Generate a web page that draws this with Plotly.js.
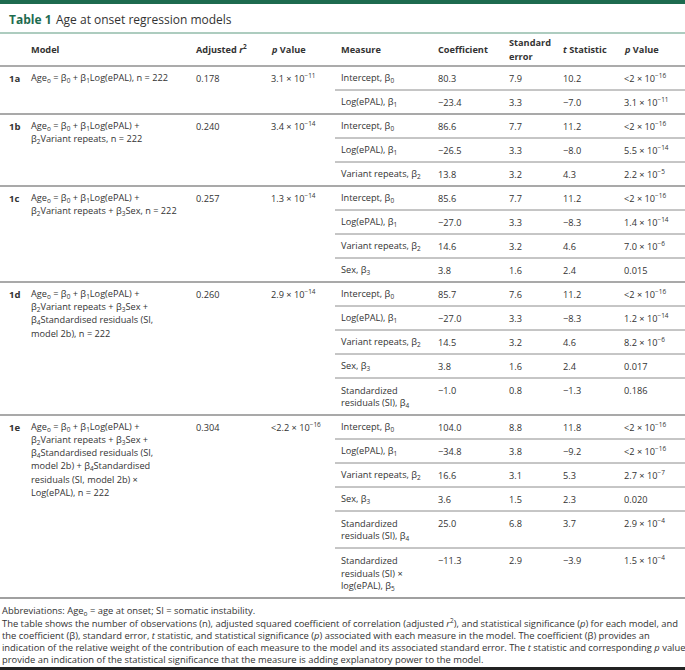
<!DOCTYPE html>
<html lang="en">
<head>
    <meta charset="UTF-8">
    <title>Table 1 Age at onset regression models</title>
    <script src="https://cdn.plot.ly/plotly-3.0.1.min.js"></script>
    <style>
        body { margin: 0; padding: 0; background: #fff; }
        #chart { width: 685px; height: 670px; }
    </style>
</head>
<body>
    <div id="chart"></div>
    <script>
        // ---- table content ----
        const modelIds = ['1a', '1b', '1c', '1d', '1e'];
        const modelFormulas = [
            'Age<sub>o</sub> = β<sub>0</sub> + β<sub>1</sub>Log(ePAL), n = 222',
            'Age<sub>o</sub> = β<sub>0</sub> + β<sub>1</sub>Log(ePAL) +<br>β<sub>2</sub>Variant repeats, n = 222',
            'Age<sub>o</sub> = β<sub>0</sub> + β<sub>1</sub>Log(ePAL) +<br>β<sub>2</sub>Variant repeats + β<sub>3</sub>Sex, n = 222',
            'Age<sub>o</sub> = β<sub>0</sub> + β<sub>1</sub>Log(ePAL) +<br>β<sub>2</sub>Variant repeats + β<sub>3</sub>Sex +<br>β<sub>4</sub>Standardised residuals (SI,<br>model 2b), n = 222',
            'Age<sub>o</sub> = β<sub>0</sub> + β<sub>1</sub>Log(ePAL) +<br>β<sub>2</sub>Variant repeats + β<sub>3</sub>Sex +<br>β<sub>4</sub>Standardised residuals (SI,<br>model 2b) + β<sub>4</sub>Standardised<br>residuals (SI, model 2b) ×<br>Log(ePAL), n = 222'
        ];
        const adjR2 = ['0.178', '0.240', '0.257', '0.260', '0.304'];
        const modelP = [
            '3.1 × 10<sup>−11</sup>',
            '3.4 × 10<sup>−14</sup>',
            '1.3 × 10<sup>−14</sup>',
            '2.9 × 10<sup>−14</sup>',
            '&lt;2.2 × 10<sup>−16</sup>'
        ];

        const measureNames = [
            ['Intercept, β<sub>0</sub>', 'Log(ePAL), β<sub>1</sub>'],
            ['Intercept, β<sub>0</sub>', 'Log(ePAL), β<sub>1</sub>', 'Variant repeats, β<sub>2</sub>'],
            ['Intercept, β<sub>0</sub>', 'Log(ePAL), β<sub>1</sub>', 'Variant repeats, β<sub>2</sub>', 'Sex, β<sub>3</sub>'],
            ['Intercept, β<sub>0</sub>', 'Log(ePAL), β<sub>1</sub>', 'Variant repeats, β<sub>2</sub>', 'Sex, β<sub>3</sub>',
             'Standardized<br>residuals (SI), β<sub>4</sub>'],
            ['Intercept, β<sub>0</sub>', 'Log(ePAL), β<sub>1</sub>', 'Variant repeats, β<sub>2</sub>', 'Sex, β<sub>3</sub>',
             'Standardized<br>residuals (SI), β<sub>4</sub>', 'Standardized<br>residuals (SI) ×<br>log(ePAL), β<sub>5</sub>']
        ];
        const coefficients = [
            [80.3, -23.4],
            [86.6, -26.5, 13.8],
            [85.6, -27.0, 14.6, 3.8],
            [85.7, -27.0, 14.5, 3.8, -1.0],
            [104.0, -34.8, 16.6, 3.6, 25.0, -11.3]
        ];
        const stdErrors = [
            [7.9, 3.3],
            [7.7, 3.3, 3.2],
            [7.7, 3.3, 3.2, 1.6],
            [7.6, 3.3, 3.2, 1.6, 0.8],
            [8.8, 3.8, 3.1, 1.5, 6.8, 2.9]
        ];
        const tStats = [
            [10.2, -7.0],
            [11.2, -8.0, 4.3],
            [11.2, -8.3, 4.6, 2.4],
            [11.2, -8.3, 4.6, 2.4, -1.3],
            [11.8, -9.2, 5.3, 2.3, 3.7, -3.9]
        ];
        const pValues = [
            ['&lt;2 × 10<sup>−16</sup>', '3.1 × 10<sup>−11</sup>'],
            ['&lt;2 × 10<sup>−16</sup>', '5.5 × 10<sup>−14</sup>', '2.2 × 10<sup>−5</sup>'],
            ['&lt;2 × 10<sup>−16</sup>', '1.4 × 10<sup>−14</sup>', '7.0 × 10<sup>−6</sup>', '0.015'],
            ['&lt;2 × 10<sup>−16</sup>', '1.2 × 10<sup>−14</sup>', '8.2 × 10<sup>−6</sup>', '0.017', '0.186'],
            ['&lt;2 × 10<sup>−16</sup>', '&lt;2 × 10<sup>−16</sup>', '2.7 × 10<sup>−7</sup>', '0.020',
             '2.9 × 10<sup>−4</sup>', '1.5 × 10<sup>−4</sup>']
        ];

        const headers = ['Model', 'Adjusted <i>r</i><sup>2</sup>', '<i>p</i> Value', 'Measure',
                         'Coefficient', 'Standard<br>error', '<i>t</i> Statistic', '<i>p</i> Value'];
        const titleText = '<b>Table 1</b>';
        const subtitleText = 'Age at onset regression models';
        const footnotes = [
            'Abbreviations: Age<sub>o</sub> = age at onset; SI = somatic instability.',
            'The table shows the number of observations (n), adjusted squared coefficient of correlation (adjusted <i>r</i><sup>2</sup>), and statistical significance (<i>p</i>) for each model, and',
            'the coefficient (β), standard error, <i>t</i> statistic, and statistical significance (<i>p</i>) associated with each measure in the model. The coefficient (β) provides an',
            'indication of the relative weight of the contribution of each measure to the model and its associated standard error. The <i>t</i> statistic and corresponding <i>p</i> value',
            'provide an indication of the statistical significance that the measure is adding explanatory power to the model.'
        ];

        // ---- layout settings ----
        const W = 685, H = 670;
        const colX = [30, 195, 270, 340, 437, 508, 562, 623];   // header / cell columns
        const labelX = 8;
        const measureLeft = 335;
        const headerLineY = 66;
        const rowH = 24;
        const lineH = 13;
        const textColor = '#333';
        const green = '#1d6b4f';
        const font = 'Open Sans, Noto Sans, sans-serif';
        const bodySize = 9.2;

        const annotations = [];
        const shapes = [];

        function addText(x, y, text, opts) {
            annotations.push(Object.assign({
                x: x, y: y, xref: 'x', yref: 'y',
                text: text, showarrow: false,
                xanchor: 'left', yanchor: 'middle', align: 'left',
                borderpad: 0,
                font: { family: font, size: bodySize, color: textColor }
            }, opts || {}));
        }
        function addLines(x, y, text, opts) {
            text.split('<br>').forEach((ln, k) => addText(x, y + k * lineH, ln, opts));
            return text.split('<br>').length;
        }
        function hline(x0, x1, y, color, width) {
            shapes.push({ type: 'line', xref: 'x', yref: 'y', x0: x0, x1: x1, y0: y, y1: y,
                          line: { color: color, width: width } });
        }
        function fmt(v) {
            return v.toFixed(1).replace('-', '−');
        }

        // top bar and title
        shapes.push({ type: 'rect', xref: 'x', yref: 'y', x0: 0, x1: W, y0: 0, y1: 4,
                      fillcolor: green, line: { width: 0 } });
        addText(labelX, 19, titleText, { font: { family: font, size: 12, color: green } });
        addText(labelX + 47, 19, subtitleText, { font: { family: font, size: 12, color: '#333' } });
        hline(0, W, 33, '#5c9a80', 1.2);

        // header row
        headers.forEach((h, i) => {
            const n = h.split('<br>').length;
            const y0 = 49 - (n - 1) * 7;
            h.split('<br>').forEach((ln, k) =>
                addText(colX[i], y0 + k * 14, '<b>' + ln + '</b>',
                        { font: { family: font, size: 9.2, color: textColor } }));
        });
        hline(0, W, headerLineY, '#8f8f8f', 1.5);

        // body
        let y = headerLineY;
        modelIds.forEach((id, i) => {
            const top = y;
            addText(labelX, top + 12, '<b>' + id + '</b>', { font: { family: font, size: 9.5, color: textColor } });
            addLines(colX[0], top + 12, modelFormulas[i]);
            addText(colX[1], top + 12, adjR2[i]);
            addText(colX[2], top + 12, modelP[i]);
            const nRows = measureNames[i].length;
            measureNames[i].forEach((name, j) => {
                const n = addLines(colX[3], y + 12, name);
                addText(colX[4], y + 12, fmt(coefficients[i][j]));
                addText(colX[5], y + 12, fmt(stdErrors[i][j]));
                addText(colX[6], y + 12, fmt(tStats[i][j]));
                addText(colX[7], y + 12, pValues[i][j]);
                y += rowH + (n - 1) * lineH;
                if (j < nRows - 1) hline(measureLeft, W, y, '#8c8c8c', 1);
            });
            const last = i === modelIds.length - 1;
            hline(0, W, y, last ? '#a0a0a0' : '#8c8c8c', last ? 2 : 1.3);
        });

        // footnotes
        footnotes.forEach((t, k) => addText(1, y + 13 + k * 12.2, t,
                                            { font: { family: font, size: 9.4, color: textColor } }));
        hline(0, W, H - 1.5, '#222', 3);

        const layout = {
            width: W, height: H,
            margin: { l: 0, r: 0, t: 0, b: 0 },
            paper_bgcolor: '#fff', plot_bgcolor: '#fff',
            xaxis: { range: [0, W], visible: false, fixedrange: true },
            yaxis: { range: [H, 0], visible: false, fixedrange: true },
            showlegend: false,
            annotations: annotations,
            shapes: shapes
        };

        Plotly.newPlot('chart', [], layout, { displayModeBar: false, staticPlot: true });
    </script>
</body>
</html>
